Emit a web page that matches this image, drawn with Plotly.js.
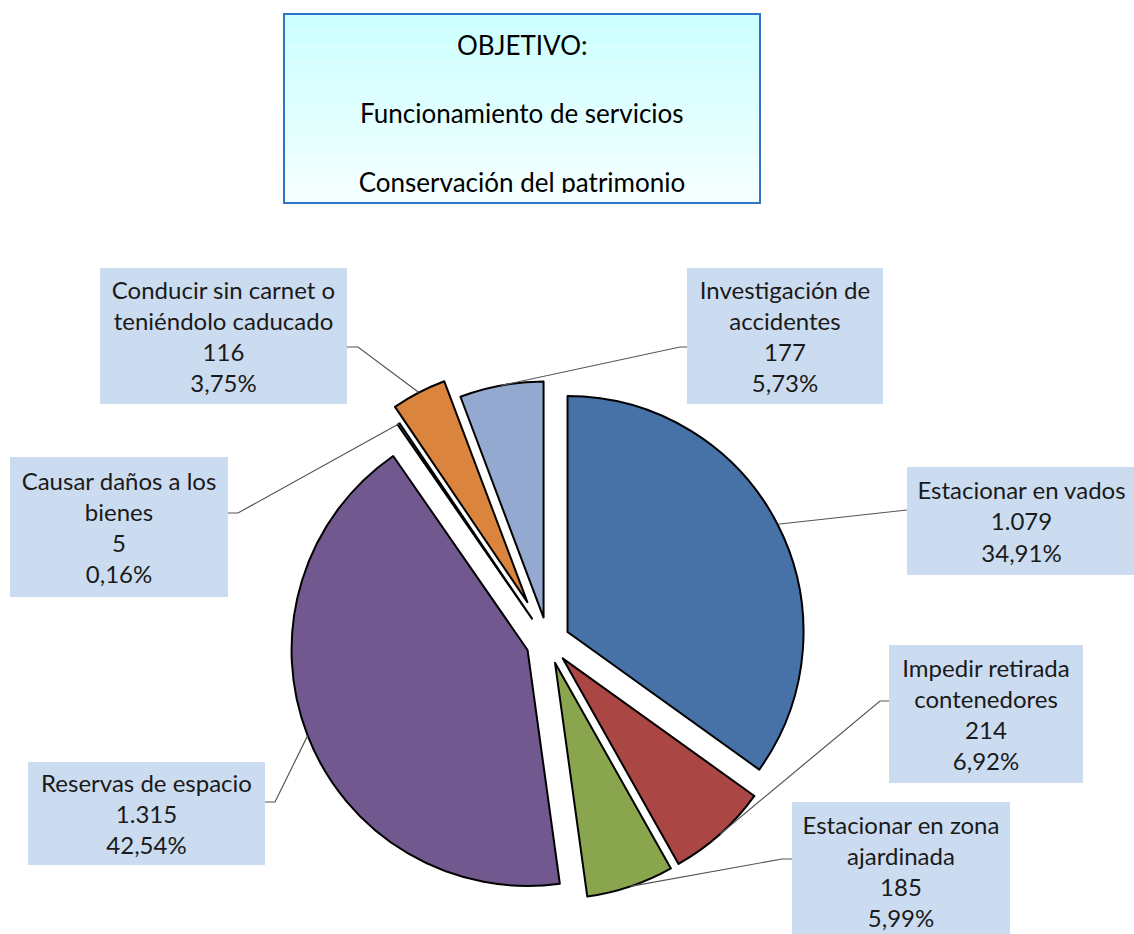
<!DOCTYPE html>
<html><head><meta charset="utf-8">
<script src="https://cdn.plot.ly/plotly-3.0.1.min.js"></script>
<style>html,body{margin:0;padding:0;background:#fff}</style>
</head><body><div id="chart" style="width:1134px;height:934px"></div>
<script>
// ---- data ----
const categories = ["Estacionar en vados", "Impedir retirada contenedores", "Estacionar en zona ajardinada",
  "Reservas de espacio", "Causar daños a los bienes", "Conducir sin carnet o teniéndolo caducado",
  "Investigación de accidentes"];
const labelLines = [
  ["Estacionar en vados"],
  ["Impedir retirada", "contenedores"],
  ["Estacionar en zona", "ajardinada"],
  ["Reservas de espacio"],
  ["Causar daños a los", "bienes"],
  ["Conducir sin carnet o", "teniéndolo caducado"],
  ["Investigación de", "accidentes"]
];
const counts = [1079, 214, 185, 1315, 5, 116, 177];
const countLabels = ["1.079", "214", "185", "1.315", "5", "116", "177"];
const percentLabels = ["34,91%", "6,92%", "5,99%", "42,54%", "0,16%", "3,75%", "5,73%"];
const titleLines = ["OBJETIVO:", "Funcionamiento de servicios", "Conservación del patrimonio"];

// ---- style ----
const colors = ["#4672A8", "#AA4643", "#89A54E", "#71588F", "#4198AF", "#DB843D", "#93A9CF"];
const pulls = [0.093, 0.093, 0.093, 0.093, 0.12, 0.19, 0.105];
const W = 1134, H = 934;
const CX = 548, CY = 642, R = 236;
const FONT = "Lato, 'Open Sans', sans-serif";
// label boxes: [x0, y0, x1, y1] in px, edge point & elbow
const boxes = [
  [907, 467, 1136, 575], [889, 645, 1083, 783], [792, 802, 1010, 940], [28, 762, 265, 865],
  [10, 457, 228, 597], [100, 268, 347, 404], [687, 268, 883, 404]
];
const edges = [[907, 510], [889, 701], [792, 859], [265, 802], [228, 513], [347, 347], [687, 347]];
const elbows = [[907, 510], [880, 701], [782, 859], [275, 802], [238, 513], [358, 347], [680, 347]];

const px = x => x / W, py = y => 1 - y / H;
const maxPull = Math.max(...pulls);
const half = R * (1 + maxPull);

const trace = {
  type: "pie", values: counts, labels: categories, sort: false, direction: "clockwise", rotation: 0,
  pull: pulls, textinfo: "none", hoverinfo: "label+value+percent",
  marker: {colors: colors, line: {color: "#000", width: 2}},
  domain: {x: [px(CX - half), px(CX + half)], y: [py(CY + half), py(CY - half)]},
  showlegend: false
};

const total = counts.reduce((a, b) => a + b, 0);
const shapes = [], annotations = [];
// title box gradient
const tb = [284, 14, 760, 203], strips = 12;
for (let i = 0; i < strips; i++) {
  const t = i / (strips - 1);
  const r = Math.round(204 + t * (244 - 204));
  shapes.push({type: "rect", xref: "paper", yref: "paper", layer: "below",
    x0: px(tb[0]), x1: px(tb[2]), y0: py(tb[1] + (tb[3] - tb[1]) * i / strips),
    y1: py(tb[1] + (tb[3] - tb[1]) * (i + 1) / strips),
    fillcolor: `rgb(${r},255,255)`, line: {width: 0}});
}
shapes.push({type: "rect", xref: "paper", yref: "paper", layer: "below",
  x0: px(tb[0]), x1: px(tb[2]), y0: py(tb[3]), y1: py(tb[1]), line: {color: "#2E75C6", width: 2}});
const tcx = (tb[0] + tb[2]) / 2;
annotations.push({xref: "paper", yref: "paper", x: px(tcx), y: py(45), text: titleLines[0], showarrow: false,
  xanchor: "center", yanchor: "middle", font: {family: FONT, size: 26, color: "#000"}});
annotations.push({xref: "paper", yref: "paper", x: px(tcx), y: py(113), text: titleLines[1], showarrow: false,
  xanchor: "center", yanchor: "middle", font: {family: FONT, size: 26, color: "#000"}});
annotations.push({xref: "paper", yref: "paper", x: px(tcx), y: py(165), text: titleLines[2], showarrow: false,
  xanchor: "center", yanchor: "top", height: 27, width: 440, valign: "top", borderpad: 0,
  font: {family: FONT, size: 26, color: "#000"}});

// data labels and leader lines
let cum = 0;
counts.forEach((v, i) => {
  const mid = (cum + v / 2) / total * 2 * Math.PI;
  cum += v;
  const rr = R * (1 + pulls[i]);
  const ax = CX + rr * Math.sin(mid), ay = CY - rr * Math.cos(mid);
  const [ex, ey] = edges[i], [bx, by] = elbows[i];
  shapes.push({type: "path", xref: "paper", yref: "paper", layer: "above",
    path: `M ${px(ax)},${py(ay)} L ${px(bx)},${py(by)} L ${px(ex)},${py(ey)}`,
    line: {color: "#555", width: 1.2}});
  const b = boxes[i];
  annotations.push({xref: "paper", yref: "paper", x: px((b[0] + b[2]) / 2), y: py((b[1] + b[3]) / 2),
    xanchor: "center", yanchor: "middle", showarrow: false, width: b[2] - b[0], height: b[3] - b[1],
    borderpad: 0, borderwidth: 0, bgcolor: "#CCDCF0",
    text: labelLines[i].concat([countLabels[i], percentLabels[i]]).join("<br>"),
    font: {family: FONT, size: 24, color: "#1a1a1a"}});
});

const layout = {width: W, height: H, margin: {l: 0, r: 0, t: 0, b: 0},
  paper_bgcolor: "#fff", plot_bgcolor: "#fff", shapes: shapes, annotations: annotations};
Plotly.newPlot("chart", [trace], layout, {displayModeBar: false});
</script></body></html>
